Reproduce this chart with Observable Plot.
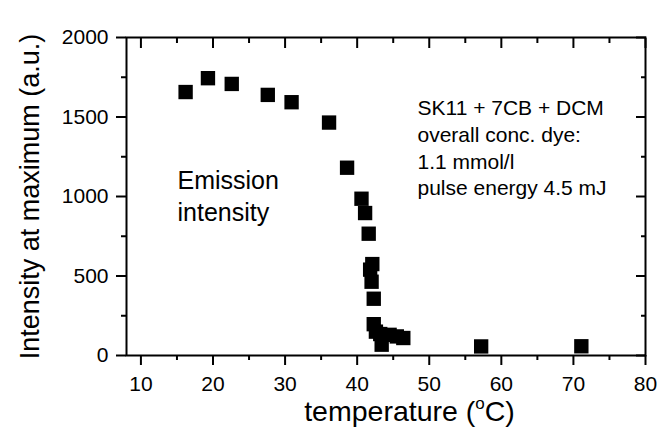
<!DOCTYPE html>
<html>
<head>
<meta charset="utf-8">
<script src="https://cdn.jsdelivr.net/npm/d3@7"></script>
<script src="https://cdn.jsdelivr.net/npm/@observablehq/plot@0.6"></script>
<style>
  html, body { margin: 0; padding: 0; background: #fff; }
  #chart svg { display: block; }
</style>
</head>
<body>
<div id="chart"></div>
<script>
// Data
const temperature = [16.2, 19.3, 22.6, 27.6, 30.9, 36.1, 38.6, 40.6, 41.1, 41.6, 42.1, 41.8, 42.0, 42.3, 42.3, 42.6, 43.2, 44.5, 45.5, 46.4, 43.4, 57.2, 71.1];
const intensity   = [1657, 1744, 1708, 1639, 1593, 1465, 1181, 986, 896, 766, 575, 540, 464, 357, 197, 150, 135, 130, 120, 110, 68, 57, 58];

const xMajor = [10, 20, 30, 40, 50, 60, 70, 80];
const xMinor = [15, 25, 35, 45, 55, 65, 75];
const yMajor = [0, 500, 1000, 1500, 2000];
const yMinor = [250, 750, 1250, 1750];

const xLabel = "temperature (";
const xLabelSup = "o";
const xLabelEnd = "C)";
const yLabel = "Intensity at maximum (a.u.)";
const leftNote = "Emission\nintensity";
const rightNote = "SK11 + 7CB + DCM\noverall conc. dye:\n1.1 mmol/l\npulse energy 4.5 mJ";

const points = temperature.map((t, i) => ({t, v: intensity[i]}));
const font = "'Liberation Sans', Arial, Helvetica, sans-serif";
const blank = () => "";
const plain = d => String(d);

const chart = Plot.plot({
  width: 668,
  height: 442,
  marginLeft: 126,
  marginRight: 23,
  marginTop: 37,
  marginBottom: 87,
  style: {fontFamily: font, color: "#000", background: "#fff", overflow: "visible"},
  x: {domain: [8, 80]},
  y: {domain: [0, 2000]},
  marks: [
    // bottom axis
    Plot.axisX({anchor: "bottom", ticks: xMajor, tickSize: 10, tickPadding: 11, fontSize: 21, strokeWidth: 2, label: null, tickFormat: plain}),
    Plot.axisX({anchor: "bottom", ticks: xMinor, tickSize: 5, strokeWidth: 2, label: null, tickFormat: blank}),
    // top axis (inward ticks)
    Plot.axisX({anchor: "top", ticks: xMajor, tickSize: -10, strokeWidth: 2, label: null, tickFormat: blank}),
    Plot.axisX({anchor: "top", ticks: xMinor, tickSize: -5, strokeWidth: 2, label: null, tickFormat: blank}),
    // left axis
    Plot.axisY({anchor: "left", ticks: yMajor, tickSize: 10, tickPadding: 8, fontSize: 21, strokeWidth: 2, label: null, tickFormat: plain}),
    Plot.axisY({anchor: "left", ticks: yMinor, tickSize: 5, strokeWidth: 2, label: null, tickFormat: blank}),
    // right axis (inward ticks)
    Plot.axisY({anchor: "right", ticks: yMajor, tickSize: -10, strokeWidth: 2, label: null, tickFormat: blank}),
    Plot.axisY({anchor: "right", ticks: yMinor, tickSize: -5, strokeWidth: 2, label: null, tickFormat: blank}),
    Plot.frame({stroke: "#000", strokeWidth: 2}),
    Plot.dot(points, {x: "t", y: "v", symbol: "square", r: 8.1, fill: "#000", stroke: "none"}),
    Plot.text([leftNote], {frameAnchor: "top-left", dx: 51, dy: 129, lineAnchor: "top", textAnchor: "start", fontSize: 25, lineHeight: 1.28, fill: "#000"}),
    Plot.text([rightNote], {frameAnchor: "top-left", dx: 291, dy: 59, lineAnchor: "top", textAnchor: "start", fontSize: 21, lineHeight: 1.27, fill: "#000"}),
    Plot.text([yLabel], {frameAnchor: "left", rotate: -90, dx: -96, textAnchor: "middle", fontSize: 27, fill: "#000"})
  ]
});

// x-axis title with superscript "o"
const [r0, r1] = chart.scale("x").range;
const svg = d3.select(chart);
const t = svg.append("text")
  .attr("x", (r0 + r1) / 2 + 24)
  .attr("y", 421)
  .attr("text-anchor", "middle")
  .attr("font-size", 28.5)
  .attr("font-family", font)
  .attr("fill", "#000");
t.append("tspan").text(xLabel);
t.append("tspan").attr("font-size", 17).attr("dy", -12).text(xLabelSup);
t.append("tspan").attr("dy", 12).text(xLabelEnd);

document.getElementById("chart").appendChild(chart);
</script>
</body>
</html>
